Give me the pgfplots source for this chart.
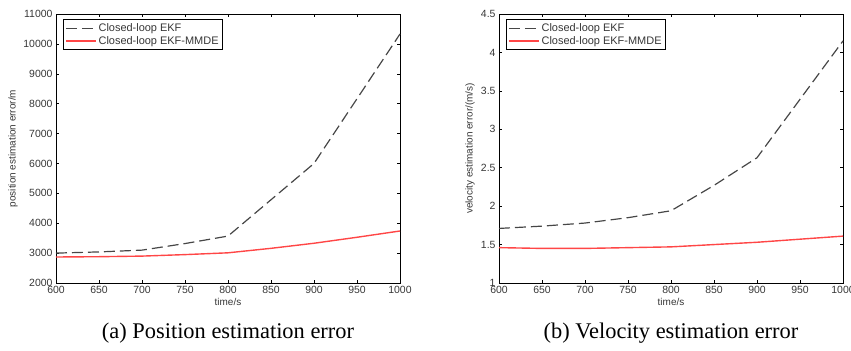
\documentclass[border=0pt]{standalone}
\usepackage{fontspec}
\setmainfont{Liberation Serif}
\setsansfont{Liberation Sans}
\usepackage{pgfplots}
\pgfplotsset{compat=1.18}
\definecolor{ekf}{RGB}{70,70,70}
\definecolor{mmde}{RGB}{255,70,70}
\definecolor{txt}{RGB}{55,55,55}
\pgfplotsset{
  mystyle/.style={
    scale only axis, width=344bp, height=269bp,
    xmin=600, xmax=1000, clip=false,
    xtick={600,650,...,1000},
    scaled y ticks=false, scaled x ticks=false,
    tick align=inside, major tick length=3bp,
    tick style={black, line width=0.5pt},
    axis line style={black, line width=0.7pt},
    ticklabel style={font=\sffamily\fontsize{10.5}{11}\selectfont, text=txt},
    label style={font=\sffamily\fontsize{10}{11}\selectfont, text=txt},
    /pgf/number format/assume math mode=true,
    /pgf/number format/1000 sep={},
    xlabel={time/s},
    xlabel style={yshift=2bp},
    legend cell align=left,
    legend style={at={(0.02,0.98)}, anchor=north west, draw=black, line width=0.7pt,
      font=\sffamily\fontsize{11}{12}\selectfont, text=txt, inner sep=2bp,
      row sep=-1bp},
    legend image code/.code={\draw[#1] (0bp,0bp) -- (30bp,0bp);},
  }
}
\begin{document}
\begin{tikzpicture}
\path[use as bounding box] (0,0) rectangle (851bp,351bp);
\begin{axis}[mystyle, at={(56bp,68bp)}, anchor=south west,
  ymin=2000, ymax=11000, ytick={2000,3000,...,11000},
  ylabel={position estimation error/m}, ylabel style={at={(rel axis cs:0,0.5)}, anchor=center, yshift=43bp}]
\addplot[ekf, line width=1.2pt, dash pattern=on 11bp off 5bp] coordinates {
(600,3000) (650,3040) (700,3100) (750,3320) (800,3570) (900,6000) (1000,10330)};
\addlegendentry{Closed-loop EKF}
\addplot[mmde, line width=1.4pt] coordinates {
(600,2870) (650,2880) (700,2900) (750,2950) (800,3010) (850,3160) (900,3330) (950,3530) (1000,3740)};
\addlegendentry{Closed-loop EKF-MMDE}
\node[font=\fontsize{22.5}{24}\selectfont, anchor=center] at (rel axis cs:0.5,0) [yshift=-50bp] {(a) Position estimation error};
\end{axis}
\begin{axis}[mystyle, at={(499bp,68bp)}, anchor=south west,
  ymin=1, ymax=4.5, ytick={1,1.5,...,4.5},
  yticklabel style={/pgf/number format/fixed},
  ylabel={velocity estimation error/(m/s)}, ylabel style={at={(rel axis cs:0,0.5)}, anchor=center, yshift=29bp}]
\addplot[ekf, line width=1.2pt, dash pattern=on 11bp off 5bp] coordinates {
(600,1.71) (650,1.74) (700,1.78) (750,1.85) (800,1.94) (850,2.27) (900,2.63) (1000,4.15)};
\addlegendentry{Closed-loop EKF}
\addplot[mmde, line width=1.4pt] coordinates {
(600,1.46) (650,1.45) (700,1.45) (750,1.46) (800,1.47) (850,1.50) (900,1.53) (950,1.57) (1000,1.61)};
\addlegendentry{Closed-loop EKF-MMDE}
\node[font=\fontsize{22.5}{24}\selectfont, anchor=center] at (rel axis cs:0.5,0) [yshift=-50bp] {(b) Velocity estimation error};
\end{axis}
\end{tikzpicture}
\end{document}
